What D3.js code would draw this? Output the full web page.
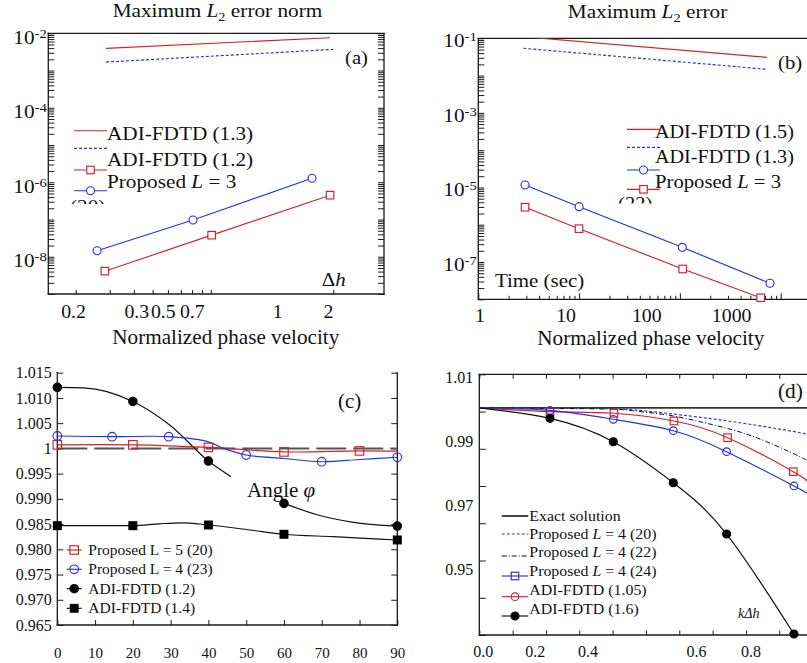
<!DOCTYPE html>
<html><head><meta charset="utf-8">
<script src="https://cdn.jsdelivr.net/npm/d3@7/dist/d3.min.js"></script>
<style>
html,body{margin:0;padding:0;background:#fff;}
svg{display:block;}
text{white-space:pre;}
</style></head>
<body>
<svg id="chart" width="807" height="663"></svg>
<script>
// ================= DATA =================
// (a) Maximum L2 error norm vs Δh (log-log)
const aAdi13X = [0.287, 4.14];
const aAdi13Y = [3.95e-3, 7.6e-3];
const aAdi12X = [0.287, 4.3];
const aAdi12Y = [1.69e-3, 3.7e-3];
const aPropSqX = [0.283, 1.01, 4.14];
const aPropSqY = [4.1e-9, 3.8e-8, 4.5e-7];
const aPropCiX = [0.258, 0.809, 3.34];
const aPropCiY = [1.45e-8, 9.7e-8, 1.28e-6];
const aXTicks = [0.2, 0.3, 0.4, 0.5, 0.6, 0.7, 0.8, 0.9, 1.0, 4.3];
const aXLabels = ["0.2", "0.3", "0.5", "0.7", "1", "2"];
const aXLabelAt = [0.195, 0.414, 0.568, 0.802, 2.22, 4.06];
const aYLabelExp = [-2, -4, -6, -8];

// (b) Maximum L2 error vs time (log-log)
const bAdi15X = [2.8, 726];
const bAdi15Y = [0.110, 0.0309];
const bAdi13X = [2.8, 726];
const bAdi13Y = [0.054, 0.01476];
const bPropCiX = [2.91, 10.0, 105.6, 783];
const bPropCiY = [1.16e-5, 3.05e-6, 2.48e-7, 2.69e-8];
const bPropSqX = [2.91, 9.98, 106.6, 633];
const bPropSqY = [2.94e-6, 7.83e-7, 6.5e-8, 1.1e-8];
const bXLabels = ["1", "10", "100", "1000"];
const bXLabelAt = [1.04, 7.42, 46.9, 326];
const bYLabelExp = [-1, -3, -5, -7];

// (c) Normalized phase velocity vs angle φ
const cXTicks = [0, 10, 20, 30, 40, 50, 60, 70, 80, 90];
const cYTicks = [0.965, 0.97, 0.975, 0.98, 0.985, 0.99, 0.995, 1, 1.005, 1.01, 1.015];
const cRefX = [0, 90];
const cRefY = [1, 1];
const cL5MarkX = [0, 20, 40, 60, 80];
const cL5MarkY = [1.0007, 1.0007, 1.0002, 0.9993, 0.9995];
const cL5LineX = [0, 20, 40, 60, 80, 90];
const cL5LineY = [1.0007, 1.0007, 1.0002, 0.9993, 0.9995, 0.99945];
const cL4MarkX = [0, 14.5, 29.5, 50, 70, 90];
const cL4MarkY = [1.00246, 1.00232, 1.00232, 0.99869, 0.99736, 0.99824];
const cL4LineX = [0, 14.5, 29.5, 40, 44, 50, 60, 70, 80, 90];
const cL4LineY = [1.00246, 1.00232, 1.00232, 1.0013, 1.0000, 0.99869, 0.99800, 0.99736, 0.99780, 0.99824];
const cAdi12MarkX = [0, 20, 40, 60, 90];
const cAdi12MarkY = [1.0121, 1.0093, 0.9975, 0.9891, 0.9846];
const cAdi12Seg1X = [0, 7, 20, 30, 40, 46];
const cAdi12Seg1Y = [1.0121, 1.0120, 1.0093, 1.0045, 0.9975, 0.9944];
const cAdi12Seg2X = [60, 69, 78, 90];
const cAdi12Seg2Y = [0.9891, 0.9868, 0.9854, 0.9846];
const cAdi14MarkX = [0, 20, 40, 60, 90];
const cAdi14MarkY = [0.98468, 0.98468, 0.98482, 0.98298, 0.98185];
const cAdi14LineX = [0, 20, 27, 33, 40, 51, 60, 73, 90];
const cAdi14LineY = [0.98468, 0.98468, 0.98505, 0.98525, 0.98482, 0.98383, 0.98298, 0.98250, 0.98185];

// (d) Normalized phase velocity vs kΔh
const dXTicks = [0, 0.1, 0.2, 0.3, 0.4, 0.5, 0.6, 0.7, 0.8, 0.9, 1.0];
const dYTicks = [0.94, 0.95, 0.96, 0.97, 0.98, 0.99, 1.0, 1.01];
const dXLabels = ["0.0", "0.2", "0.4", "0.6", "0.8"];
const dXLabelAt = [0.012, 0.168, 0.326, 0.652, 0.815];
const dYLabels = ["1.01", "0.99", "0.97", "0.95"];
const dYLabelVal = [1.01, 0.99, 0.97, 0.95];
const dExactX = [0, 1];
const dExactY = [1.001, 1.001];
const dL20X = [0, 0.362, 0.562, 0.762, 0.962, 0.983];
const dL20Y = [1.001, 1.0009, 0.99953, 0.99726, 0.99432, 0.9937];
const dL22X = [0, 0.362, 0.462, 0.562, 0.662, 0.762, 0.862, 0.962, 0.983];
const dL22Y = [1.001, 1.0007, 1.0002, 0.9991, 0.99727, 0.99504, 0.99191, 0.98787, 0.9868];
const dRedMarkX = [0.212, 0.404, 0.584, 0.745, 0.942];
const dRedMarkY = [0.99996, 0.99953, 0.99746, 0.99298, 0.98385];
const dRedLineX = [0, 0.212, 0.404, 0.584, 0.745, 0.942, 0.983];
const dRedLineY = [1.001, 0.99996, 0.99953, 0.99746, 0.99298, 0.98385, 0.98116];
const dBlueMarkX = [0.212, 0.402, 0.582, 0.742, 0.944];
const dBlueMarkY = [1.0003, 0.99792, 0.99486, 0.98922, 0.98001];
const dBlueLineX = [0, 0.212, 0.402, 0.582, 0.742, 0.944, 0.983];
const dBlueLineY = [1.001, 1.0003, 0.99792, 0.99486, 0.98922, 0.98001, 0.9780];
const dAdi16X = [0, 0.212, 0.402, 0.582, 0.742, 0.944];
const dAdi16Y = [1.001, 0.99818, 0.99190, 0.98089, 0.96711, 0.94026];

// ================= STYLE / HELPERS =================
const FONT = '"Liberation Serif","Times New Roman",Times,serif';
const RED = "#d42027", BLUE = "#2330ec", INK = "#1a1a1a";
const svg = d3.select("#chart");
svg.append("rect").attr("width", 807).attr("height", 663).attr("fill", "#fff");
const defs = svg.append("defs");

function txt(parent, x, y, parts, o = {}) {
  const t = parent.append("text")
    .attr("transform", `translate(${x},${y})` + (o.sx && o.sx !== 1 ? ` scale(${o.sx},1)` : ""))
    .attr("text-anchor", o.anchor || "start")
    .style("font-family", FONT)
    .style("font-size", (o.size || 16) + "px")
    .style("fill", o.fill || "#111");
  (Array.isArray(parts) ? parts : [parts]).forEach(p => {
    if (typeof p === "string") p = { t: p };
    const s = t.append("tspan").text(p.t);
    if (p.i) s.style("font-style", "italic");
    if (p.size) s.style("font-size", p.size + "px");
    if (p.dy) s.attr("dy", p.dy);
  });
  return t;
}
function frame(g, x0, x1, y0, y1, sides) {
  const segs = [];
  if (sides.includes("l")) segs.push([x0, y0, x0, y1]);
  if (sides.includes("r")) segs.push([x1, y0, x1, y1]);
  if (sides.includes("t")) segs.push([x0, y0, x1, y0]);
  if (sides.includes("b")) segs.push([x0, y1, x1, y1]);
  g.selectAll(null).data(segs).join("line")
    .attr("x1", d => d[0]).attr("y1", d => d[1]).attr("x2", d => d[2]).attr("y2", d => d[3])
    .attr("stroke", INK).attr("stroke-width", 1.3).attr("stroke-linecap", "square");
}
function ticksOnly(g, gen, tx, ty, w = 1) {
  const a = g.append("g").attr("transform", `translate(${tx},${ty})`)
    .call(gen.tickSizeOuter(0).tickFormat(""));
  a.select(".domain").remove();
  a.selectAll("line").attr("stroke", INK).attr("stroke-width", w);
  return a;
}
function drawLine(g, xs, ys, x, y, o) {
  const pts = xs.map((v, i) => [v, ys[i]]);
  g.append("path").datum(pts)
    .attr("d", d3.line().x(d => x(d[0])).y(d => y(d[1])).curve(o.curve || d3.curveLinear))
    .attr("fill", "none").attr("stroke", o.color).attr("stroke-width", o.w || 1.15)
    .attr("stroke-dasharray", o.dash || null);
}
function drawMarks(g, xs, ys, x, y, o) {
  const pts = xs.map((v, i) => [x(v), y(ys[i])]);
  const s = o.size;
  const sel = o.shape === "square"
    ? g.selectAll(null).data(pts).join("rect")
        .attr("x", d => d[0] - s / 2).attr("y", d => d[1] - s / 2).attr("width", s).attr("height", s)
    : g.selectAll(null).data(pts).join("circle")
        .attr("cx", d => d[0]).attr("cy", d => d[1]).attr("r", s / 2);
  sel.attr("fill", o.fill).attr("stroke", o.color).attr("stroke-width", o.sw || 1.15);
}
function legSym(g, x1, x2, y, o) {
  g.append("line").attr("x1", x1).attr("x2", x2).attr("y1", y).attr("y2", y)
    .attr("stroke", o.color).attr("stroke-width", o.w || 1.15).attr("stroke-dasharray", o.dash || null);
  if (o.shape) {
    const cx = (x1 + x2) / 2, s = o.size;
    if (o.shape === "square")
      g.append("rect").attr("x", cx - s / 2).attr("y", y - s / 2).attr("width", s).attr("height", s)
        .attr("fill", o.fill).attr("stroke", o.color).attr("stroke-width", 1.15);
    else
      g.append("circle").attr("cx", cx).attr("cy", y).attr("r", s / 2)
        .attr("fill", o.fill).attr("stroke", o.color).attr("stroke-width", 1.15);
  }
}
const isDecade = v => Math.abs(Math.log10(v) - Math.round(Math.log10(v))) < 1e-6;

// ================= PANEL (a) =================
{
  const g = svg.append("g");
  const box = { l: 48.3, r: 384, t: 33.3, b: 294 };
  const x = d3.scaleLog().domain([0.2, 2]).range([75.7, 269]);
  const y = d3.scaleLog().domain([1e-9, 1e-2]).range([box.b, box.t]);
  ticksOnly(g, d3.axisLeft(y).tickValues(y.ticks()).tickSizeInner(-6), box.l, 0);
  ticksOnly(g, d3.axisRight(y).tickValues(y.ticks()).tickSizeInner(-6), box.r, 0);
  ticksOnly(g, d3.axisBottom(x).tickValues(aXTicks).tickSizeInner(-4), 0, box.b);
  frame(g, box.l, box.r, box.t, box.b, "lrtb");

  drawLine(g, aAdi13X, aAdi13Y, x, y, { color: RED });
  drawLine(g, aAdi12X, aAdi12Y, x, y, { color: BLUE, dash: "3,2" });
  drawLine(g, aPropSqX, aPropSqY, x, y, { color: RED });
  drawLine(g, aPropCiX, aPropCiY, x, y, { color: BLUE });
  drawMarks(g, aPropSqX, aPropSqY, x, y, { shape: "square", size: 7.5, color: RED, fill: "#fff" });
  drawMarks(g, aPropCiX, aPropCiY, x, y, { shape: "circle", size: 8, color: BLUE, fill: "#fff" });

  aYLabelExp.forEach(e => txt(g, box.l - 1.5, y(Math.pow(10, e)) + 10.5,
    ["10", { t: String(e), size: 12.5, dy: -6 }], { anchor: "end", size: 18, sx: 1.18 }));
  aXLabels.forEach((s, i) => txt(g, x(aXLabelAt[i]), 318, s, { anchor: "middle", size: 18, sx: 1.1 }));

  txt(g, 217.5, 16.8, ["Maximum ", { t: "L", i: true }, { t: "2", size: 12.5, dy: 4 }, { t: " error norm", dy: -4 }],
    { anchor: "middle", size: 18.5, sx: 1.15 });
  txt(g, 345, 64, "(a)", { size: 19, sx: 1.09 });
  txt(g, 321.7, 286, ["Δ", { t: "h", i: true }], { size: 19, sx: 1.1 });

  // legend
  legSym(g, 74, 107, 130.7, { color: RED });
  legSym(g, 74, 107, 148.3, { color: BLUE, dash: "3,2" });
  legSym(g, 74, 107, 170, { color: RED, shape: "square", size: 7.5, fill: "#fff" });
  legSym(g, 74, 107, 190.7, { color: BLUE, shape: "circle", size: 8, fill: "#fff" });
  txt(g, 107, 140, "ADI-FDTD (1.3)", { size: 18, sx: 1.18 });
  txt(g, 107, 166, "ADI-FDTD (1.2)", { size: 18, sx: 1.18 });
  txt(g, 107, 188, ["Proposed ", { t: "L", i: true }, " = 3"], { size: 18, sx: 1.18 });
  defs.append("clipPath").attr("id", "clipA20").append("rect")
    .attr("x", 0).attr("y", 0).attr("width", 400).attr("height", 204);
  txt(g.append("g").attr("clip-path", "url(#clipA20)"), 70, 212.5, "(20)", { size: 18, sx: 1.18 });
}

// ================= PANEL (b) =================
{
  const g = svg.append("g");
  const x = d3.scaleLog().domain([1, 10000]).range([478.3, 881.5]);
  const y = d3.scaleLog().domain([1e-8, 1e-1]).range([299.3, 38.3]);
  const [l, r] = x.range(), [b, t] = y.range();
  const xt = x.ticks();
  ticksOnly(g, d3.axisBottom(x).tickValues(xt.filter(v => !isDecade(v))).tickSizeInner(-3.5), 0, b);
  ticksOnly(g, d3.axisBottom(x).tickValues(xt.filter(isDecade)).tickSizeInner(-6), 0, b);
  ticksOnly(g, d3.axisLeft(y).tickValues(y.ticks()).tickSizeInner(-6), l, 0);
  frame(g, l, r, t, b, "ltb");

  defs.append("clipPath").attr("id", "clipB").append("rect")
    .attr("x", l).attr("y", t).attr("width", r - l).attr("height", b - t);
  const pg = g.append("g").attr("clip-path", "url(#clipB)");
  drawLine(pg, bAdi15X, bAdi15Y, x, y, { color: RED });
  drawLine(pg, bAdi13X, bAdi13Y, x, y, { color: BLUE, dash: "3,2" });
  drawLine(g, bPropCiX, bPropCiY, x, y, { color: BLUE });
  drawLine(g, bPropSqX, bPropSqY, x, y, { color: RED });
  drawMarks(g, bPropCiX, bPropCiY, x, y, { shape: "circle", size: 8, color: BLUE, fill: "#fff" });
  drawMarks(g, bPropSqX, bPropSqY, x, y, { shape: "square", size: 7.5, color: RED, fill: "#fff" });

  bYLabelExp.forEach(e => txt(g, l - 1.5, y(Math.pow(10, e)) + 9,
    ["10", { t: String(e), size: 12.5, dy: -6 }], { anchor: "end", size: 18, sx: 1.18 }));
  bXLabels.forEach((s, i) => txt(g, x(bXLabelAt[i]), 322, s, { anchor: "middle", size: 18, sx: 1.1 }));

  txt(g, 647.5, 17.6, ["Maximum ", { t: "L", i: true }, { t: "2", size: 12.5, dy: 4 }, { t: " error", dy: -4 }],
    { anchor: "middle", size: 18.5, sx: 1.15 });
  txt(g, 778, 69, "(b)", { size: 19, sx: 1.09 });
  txt(g, 495, 286.7, "Time (sec)", { size: 19, sx: 1.1 });

  legSym(g, 627, 660, 129.3, { color: RED });
  legSym(g, 627, 660, 147.3, { color: BLUE, dash: "3,2" });
  legSym(g, 627, 660, 170, { color: BLUE, shape: "circle", size: 8, fill: "#fff" });
  legSym(g, 627, 660, 189.3, { color: RED, shape: "square", size: 7.5, fill: "#fff" });
  txt(g, 655, 138.3, "ADI-FDTD (1.5)", { size: 18, sx: 1.12 });
  txt(g, 655, 162.7, "ADI-FDTD (1.3)", { size: 18, sx: 1.12 });
  txt(g, 655, 188, ["Proposed ", { t: "L", i: true }, " = 3"], { size: 18, sx: 1.15 });
  defs.append("clipPath").attr("id", "clipB22").append("rect")
    .attr("x", 400).attr("y", 0).attr("width", 407).attr("height", 203.5);
  txt(g.append("g").attr("clip-path", "url(#clipB22)"), 618, 209.5, "(22)", { size: 18, sx: 1.15 });
}

// ================= PANEL (c) =================
{
  const g = svg.append("g");
  const x = d3.scaleLinear().domain([0, 90]).range([57.3, 397.3]);
  const y = d3.scaleLinear().domain([0.965, 1.015]).range([625, 372.7]);
  const [l, r] = x.range(), [b, t] = y.range();
  const fmt = v => Math.abs(v - 1) < 1e-9 ? "1" : d3.format(".3f")(v);

  const ax = g.append("g").attr("transform", `translate(0,${b})`)
    .call(d3.axisBottom(x).tickValues(cXTicks).tickSizeInner(-5).tickSizeOuter(0).tickPadding(22.6));
  const ay = g.append("g").attr("transform", `translate(${l},0)`)
    .call(d3.axisLeft(y).tickValues(cYTicks).tickSizeInner(-6).tickSizeOuter(0).tickPadding(5.6).tickFormat(fmt));
  [ax, ay].forEach(a => {
    a.select(".domain").remove();
    a.selectAll("line").attr("stroke", INK);
    a.selectAll("text").style("font-family", FONT).style("fill", "#111");
  });
  ax.selectAll("text").style("font-size", "15px");
  ay.selectAll("text").style("font-size", "16px");
  ticksOnly(g, d3.axisRight(y).tickValues(cYTicks).tickSizeInner(-6), r, 0);
  frame(g, l, r, t, b, "lrb");

  drawLine(g, cRefX, cRefY, x, y, { color: "#555", w: 2, dash: "30,7" });
  drawLine(g, cAdi14LineX, cAdi14LineY, x, y, { color: "#111", curve: d3.curveMonotoneX });
  drawLine(g, cAdi12Seg1X, cAdi12Seg1Y, x, y, { color: "#111", curve: d3.curveMonotoneX });
  drawLine(g, cAdi12Seg2X, cAdi12Seg2Y, x, y, { color: "#111", curve: d3.curveMonotoneX });
  drawLine(g, cL5LineX, cL5LineY, x, y, { color: RED, curve: d3.curveCatmullRom });
  drawLine(g, cL4LineX, cL4LineY, x, y, { color: BLUE, curve: d3.curveCatmullRom });
  drawMarks(g, cL5MarkX, cL5MarkY, x, y, { shape: "square", size: 8.5, color: RED, fill: "none" });
  drawMarks(g, cL4MarkX, cL4MarkY, x, y, { shape: "circle", size: 8.6, color: BLUE, fill: "none" });
  drawMarks(g, cAdi12MarkX, cAdi12MarkY, x, y, { shape: "circle", size: 8.4, color: "#000", fill: "#000" });
  drawMarks(g, cAdi14MarkX, cAdi14MarkY, x, y, { shape: "square", size: 7.8, color: "#000", fill: "#000" });

  txt(g, 225.8, 344, "Normalized phase velocity", { anchor: "middle", size: 20, sx: 1.06 });
  txt(g, 338, 407.5, "(c)", { size: 20, sx: 1.05 });
  txt(g, 247, 496.7, ["Angle ", { t: "φ", i: true }], { size: 20, sx: 1.05 });

  const rows = [550, 569.3, 588.7, 608.3];
  legSym(g, 66.7, 81.7, rows[0], { color: RED, shape: "square", size: 8.5, fill: "none" });
  legSym(g, 66.7, 81.7, rows[1], { color: BLUE, shape: "circle", size: 8.6, fill: "none" });
  legSym(g, 66.7, 81.7, rows[2], { color: "#111", shape: "circle", size: 8.4, fill: "#000" });
  legSym(g, 66.7, 81.7, rows[3], { color: "#111", shape: "square", size: 7.8, fill: "#000" });
  ["Proposed L = 5 (20)", "Proposed L = 4 (23)", "ADI-FDTD (1.2)", "ADI-FDTD (1.4)"]
    .forEach((s, i) => txt(g, 88.3, rows[i] + 5, s, { size: 15.5 }));
}

// ================= PANEL (d) =================
{
  const g = svg.append("g");
  const x = d3.scaleLinear().domain([0, 1]).range([479.3, 812.6]);
  const y = d3.scaleLinear().domain([0.94, 1.01]).range([635, 374.3]);
  const yLab = d3.scaleLinear().domain([0.95, 1.01]).range([575, 383.3]);
  const [l, r] = x.range(), [b, t] = y.range();
  ticksOnly(g, d3.axisLeft(y).tickValues(dYTicks).tickSizeInner(-6.5), l, 0);
  ticksOnly(g, d3.axisBottom(x).tickValues(dXTicks).tickSizeInner(-4.5), 0, b);
  ticksOnly(g, d3.axisTop(x).tickValues(dXTicks).tickSizeInner(-4.5), 0, t);
  frame(g, l, r, t, b, "ltb");

  drawLine(g, dExactX, dExactY, x, y, { color: "#333", w: 1.8 });
  drawLine(g, dL20X, dL20Y, x, y, { color: BLUE, dash: "3,2", curve: d3.curveNatural });
  drawLine(g, dL22X, dL22Y, x, y, { color: "#111", w: 1, dash: "5,2,1,2", curve: d3.curveNatural });
  drawLine(g, dRedLineX, dRedLineY, x, y, { color: RED, curve: d3.curveNatural });
  drawLine(g, dBlueLineX, dBlueLineY, x, y, { color: BLUE, curve: d3.curveNatural });
  drawLine(g, dAdi16X, dAdi16Y, x, y, { color: "#111", curve: d3.curveNatural });
  drawMarks(g, dRedMarkX, dRedMarkY, x, y, { shape: "square", size: 7.5, color: RED, fill: "none" });
  drawMarks(g, dBlueMarkX, dBlueMarkY, x, y, { shape: "circle", size: 7.6, color: BLUE, fill: "none" });
  drawMarks(g, dAdi16X.slice(1), dAdi16Y.slice(1), x, y, { shape: "circle", size: 8, color: "#000", fill: "#000" });

  dYLabels.forEach((s, i) => txt(g, l - 6, yLab(dYLabelVal[i]), s, { anchor: "end", size: 16 }));
  dXLabels.forEach((s, i) => txt(g, x(dXLabelAt[i]), 656.7, s, { anchor: "middle", size: 16 }));

  txt(g, 650.8, 345, "Normalized phase velocity", { anchor: "middle", size: 20, sx: 1.06 });
  txt(g, 778, 397.5, "(d)", { size: 20, sx: 1.07 });
  txt(g, 738, 618.3, [{ t: "k", i: true }, { t: "Δ", i: true }, { t: "h", i: true }], { size: 14 });

  const symY = [516, 534, 556, 576, 596.7, 616];
  const txtY = [521, 539, 557, 576, 595, 613.5];
  legSym(g, 501.7, 528.3, symY[0], { color: "#333", w: 1.8 });
  legSym(g, 501.7, 528.3, symY[1], { color: BLUE, dash: "3,2" });
  legSym(g, 501.7, 528.3, symY[2], { color: "#111", w: 1, dash: "5,2,1,2" });
  legSym(g, 501.7, 528.3, symY[3], { color: BLUE, shape: "square", size: 7.5, fill: "none" });
  legSym(g, 501.7, 528.3, symY[4], { color: RED, shape: "circle", size: 7.6, fill: "none" });
  legSym(g, 501.7, 528.3, symY[5], { color: "#111", shape: "circle", size: 8, fill: "#000" });
  const o = { size: 15, sx: 1.06 };
  txt(g, 529.3, txtY[0], "Exact solution", o);
  txt(g, 529.3, txtY[1], ["Proposed ", { t: "L", i: true }, " = 4 (20)"], o);
  txt(g, 529.3, txtY[2], ["Proposed ", { t: "L", i: true }, " = 4 (22)"], o);
  txt(g, 529.3, txtY[3], ["Proposed ", { t: "L", i: true }, " = 4 (24)"], o);
  txt(g, 529.3, txtY[4], "ADI-FDTD (1.05)", o);
  txt(g, 529.3, txtY[5], "ADI-FDTD (1.6)", o);
}
</script>
</body></html>
